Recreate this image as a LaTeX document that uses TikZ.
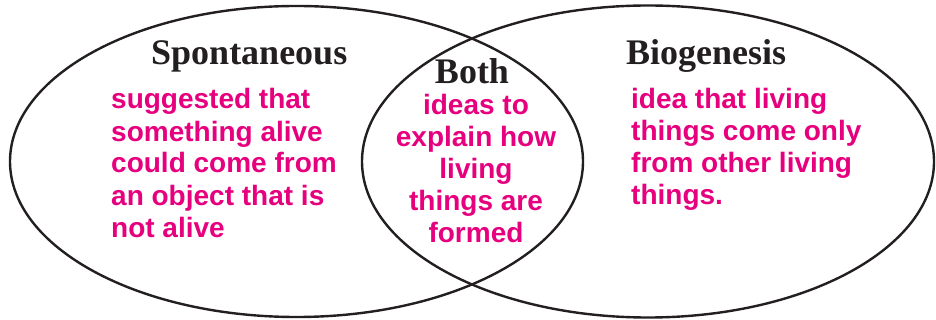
\documentclass[tikz,border=0pt]{standalone}
\usepackage{fontspec}
\setmainfont{Liberation Sans}
\newfontfamily\titlefont{Liberation Serif}
\usetikzlibrary{shapes.geometric}
\definecolor{vennpink}{HTML}{E6007E}
\definecolor{vennline}{HTML}{231F20}
\tikzset{
  venn/.style={ellipse, draw=vennline, line width=2.4pt, inner sep=0pt},
  vtitle/.style={inner sep=0pt, text=vennline, font=\titlefont\bfseries\fontsize{36}{40}\selectfont},
  vbody/.style={inner sep=0pt, text=vennpink, font=\bfseries\fontsize{28}{32}\selectfont},
}
\begin{document}
\begin{tikzpicture}[x=1pt,y=-1pt]
\useasboundingbox (0,0) rectangle (936,320);
\node[venn, minimum width=573pt, minimum height=311pt] (left) at (296.5,161.5) {};
\node[venn, minimum width=572pt, minimum height=312pt] (right) at (648,161.5) {};
\node[vtitle, anchor=base west] (spont) at (151,65) {Spontaneous};
\node[vtitle, anchor=base west] (bio) at (626,65) {Biogenesis};
\node[vtitle, anchor=base] (both) at (472,84) {Both};
\node[vbody, anchor=base west, align=left] (spontext) at (111,237)
  {suggested that\\something alive\\could come from\\an object that is\\not alive};
\node[vbody, anchor=base west, align=left] (biotext) at (631,205)
  {idea that living\\things come only\\from other living\\things.};
\node[vbody, anchor=base, align=center] (bothtext) at (476,243)
  {ideas to\\explain how\\living\\things are\\formed};
\end{tikzpicture}
\end{document}
